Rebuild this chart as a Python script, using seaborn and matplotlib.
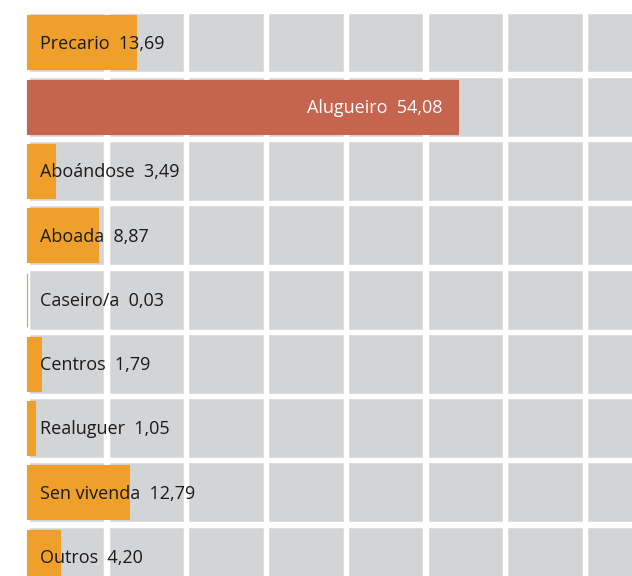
import pandas as pd
import matplotlib.pyplot as plt
import seaborn as sns

# Data
categories = ["Precario", "Alugueiro", "Aboándose", "Aboada", "Caseiro/a",
              "Centros", "Realuguer", "Sen vivenda", "Outros"]
values = [13.69, 54.08, 3.49, 8.87, 0.03, 1.79, 1.05, 12.79, 4.20]
highlight = "Alugueiro"

ORANGE = "#EFA02A"
RED = "#C5654F"
CELL = "#D3D4D6"

df = pd.DataFrame({"categoria": categories, "valor": values})
palette = {c: (RED if c == highlight else ORANGE) for c in categories}

sns.set_style("white")
plt.rcParams['font.family'] = ['Open Sans', 'DejaVu Sans']

fig = plt.figure(figsize=(6.32, 5.76), dpi=100)
ax = fig.add_axes([0, 0, 1, 1])

# Background grid of grey cells, one cell per 10 units
for i in range(len(categories)):
    for k in range(8):
        ax.barh(i, 9.2, left=10 * k + 0.38, height=0.9, color=CELL,
                edgecolor="#DCDDDF", linewidth=0.6, zorder=1)

sns.barplot(data=df, x="valor", y="categoria", hue="categoria", palette=palette,
            orient="h", width=0.84, legend=False, ax=ax, zorder=2,
            saturation=1, linewidth=0)

# thin edge in the same colour so tiny values still show up as a line
for p in ax.patches[-len(categories):]:
    p.set_edgecolor(p.get_facecolor())
    p.set_linewidth(0.8)

# Labels
for i, (cat, val) in enumerate(zip(categories, values)):
    txt = f"{cat}  {val:.2f}".replace(".", ",")
    if cat == highlight:
        ax.text(val - 2.0, i + 0.02, txt, color="white", ha="right", va="center",
                fontsize=13, zorder=3)
    else:
        ax.text(1.6, i + 0.02, txt, color="#1a1a1a", ha="left", va="center",
                fontsize=13, zorder=3)

ax.set_xlim(-3.39, 75.9)
ax.set_ylim(8.3, -0.66)
ax.axis("off")

fig.savefig("out.png", dpi=100)
